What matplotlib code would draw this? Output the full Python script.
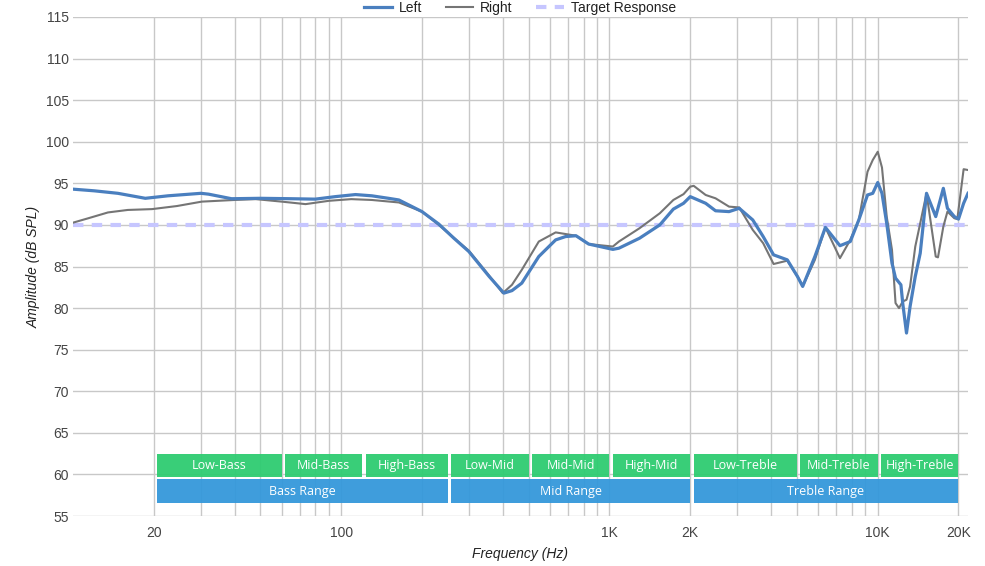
import numpy as np
import matplotlib
matplotlib.use("Agg")
import matplotlib.pyplot as plt
from matplotlib.patches import Rectangle

plt.rcParams['font.family'] = ['Liberation Sans', 'DejaVu Sans']
plt.rcParams['lines.scale_dashes'] = False

# Left channel (Hz, dB SPL)
left_f = [10, 12, 14.7, 18.6, 22.6, 30, 32, 39, 50, 65, 80, 95, 113, 130, 150, 164,
          200, 231, 263, 299, 356, 404, 433, 471, 545, 630, 686, 750, 836, 1029, 1084,
          1294, 1540, 1730, 1888, 2000, 2283, 2485, 2790, 3045, 3420, 3740, 4090, 4600,
          5020, 5250, 5830, 6380, 7230, 7900, 8500, 9160, 9580, 10000, 10370, 10800,
          11300, 11650, 12200, 12400, 12800, 13200, 13800, 14400, 15200, 16450, 17560,
          18190, 19300, 20000, 20900, 21700]
left_db = [94.3, 94.1, 93.8, 93.2, 93.5, 93.8, 93.7, 93.15, 93.2, 93.15, 93.1, 93.4, 93.65, 93.5, 93.2, 93.0,
           91.6, 90.1, 88.4, 86.8, 83.8, 81.8, 82.1, 83.0, 86.2, 88.2, 88.6, 88.7, 87.7, 87.06, 87.2,
           88.4, 90.0, 91.9, 92.6, 93.4, 92.6, 91.7, 91.6, 92.0, 90.6, 88.6, 86.4, 85.8,
           83.8, 82.6, 86.2, 89.7, 87.5, 88.0, 90.6, 93.6, 93.8, 95.1, 93.8, 90.2,
           85.4, 83.6, 82.8, 80.5, 77.0, 80.2, 83.8, 86.6, 93.8, 91.0, 94.4,
           92.0, 91.0, 90.7, 92.6, 93.8]

# Right channel (Hz, dB SPL)
right_f = [10, 11.4, 13.5, 16, 19.7, 24.4, 30.2, 40, 48, 60, 73.6, 90, 109, 130, 164,
           200, 231, 299, 356, 400, 433, 471, 545, 630, 750, 836, 1029, 1084, 1294, 1540,
           1730, 1888, 2000, 2060, 2283, 2485, 2790, 3045, 3420, 3740, 4090, 4600, 5020,
           5250, 5320, 5830, 6380, 7230, 7900, 8500, 9160, 9580, 10000, 10370, 10800,
           11300, 11650, 12000, 12400, 12800, 13200, 13800, 14400, 15200, 16450, 16770,
           17560, 18190, 19300, 19800, 20900, 21700]
right_db = [90.27, 90.8, 91.5, 91.8, 91.9, 92.27, 92.8, 93.0, 93.1, 92.8, 92.5, 92.9, 93.1, 93.0, 92.7,
            91.6, 90.0, 86.9, 83.9, 81.8, 82.8, 84.6, 88.0, 89.1, 88.7, 87.7, 87.4, 88.0, 89.6, 91.4,
            93.0, 93.7, 94.6, 94.7, 93.6, 93.2, 92.2, 92.1, 89.4, 87.8, 85.3, 85.7, 83.8,
            82.7, 83.0, 85.8, 89.7, 86.0, 88.2, 90.6, 96.4, 97.8, 98.8, 96.9, 91.0,
            87.0, 80.6, 80.0, 80.8, 81.0, 82.6, 87.4, 90.2, 93.8, 86.2, 86.1,
            89.8, 91.6, 90.8, 90.7, 96.7, 96.6]

target_db = 90

sub_names = ['Low-Bass', 'Mid-Bass', 'High-Bass', 'Low-Mid', 'Mid-Mid', 'High-Mid',
             'Low-Treble', 'Mid-Treble', 'High-Treble']
sub_edges = [20, 60, 120, 250, 500, 1000, 2000, 5000, 10000, 20000]
range_names = ['Bass Range', 'Mid Range', 'Treble Range']
range_edges = [20, 250, 2000, 20000]

fig = plt.figure(figsize=(9.85, 5.66), dpi=100)
ax = fig.add_axes([73 / 985, 1 - 516 / 566, 895 / 985, 499 / 566])
ax.set_xscale('log')
ax.set_xlim(10, 21700)
ax.set_ylim(55, 115)

ax.set_xticks([20, 100, 1000, 2000, 10000, 20000])
ax.set_xticklabels(['20', '100', '1K', '2K', '10K', '20K'])
minor = [m * d for d in (10, 100, 1000) for m in range(2, 10)]
minor = [m for m in minor if m not in (20, 100, 1000, 2000, 10000)]
ax.set_xticks(minor, minor=True)
ax.xaxis.set_minor_formatter(plt.NullFormatter())
ax.set_yticks(np.arange(55, 116, 5))
ax.grid(True, which='both', color='#c8c8c8', lw=1)
ax.set_axisbelow(True)
ax.tick_params(which='both', length=0, labelsize=10, labelcolor='#444444')
ax.tick_params(axis='x', pad=7)
ax.tick_params(axis='y', pad=3)
for s in ax.spines.values():
    s.set_visible(False)

tl = ax.axhline(target_db, color='#c6c6ff', lw=3, dashes=(7.5, 6), label='Target Response', zorder=2)
ll, = ax.plot(left_f, left_db, color='#4a7fbf', lw=2.3, label='Left', zorder=4)
rl, = ax.plot(right_f, right_db, color='#757575', lw=1.5, label='Right', zorder=3)

# frequency band boxes
gap = 10 ** (3.3 / 268)
for i, name in enumerate(sub_names):
    x0, x1 = sub_edges[i] * gap, sub_edges[i + 1]
    ax.add_patch(Rectangle((x0, 59.73), x1 - x0, 2.77, color='#2ecc71', alpha=0.95, lw=0, zorder=5))
    ax.text(np.sqrt(x0 * x1), 61.1, name, color='white', fontsize=9, family='Open Sans',
            ha='center', va='center', zorder=6)
for i, name in enumerate(range_names):
    x0, x1 = range_edges[i] * gap, range_edges[i + 1]
    ax.add_patch(Rectangle((x0, 56.6), x1 - x0, 2.85, color='#3498db', alpha=0.95, lw=0, zorder=5))
    ax.text(np.sqrt(x0 * x1), 58.0, name, color='white', fontsize=9, family='Open Sans',
            ha='center', va='center', zorder=6)

ax.set_xlabel('Frequency (Hz)', fontsize=10, style='italic', color='#222222')
ax.set_ylabel('Amplitude (dB SPL)', fontsize=10, style='italic', color='#222222')
ax.xaxis.set_label_coords(0.5, -0.062)
ax.yaxis.set_label_coords(-0.0358, 0.5)

fig.legend(handles=[ll, rl, tl], loc='center', bbox_to_anchor=(0.528, 1 - 8 / 566), ncol=3,
           frameon=False, fontsize=10, handlelength=2.0, handletextpad=0.5, columnspacing=1.7,
           labelcolor='#222222', borderpad=0)

fig.savefig('out.png', dpi=100)
